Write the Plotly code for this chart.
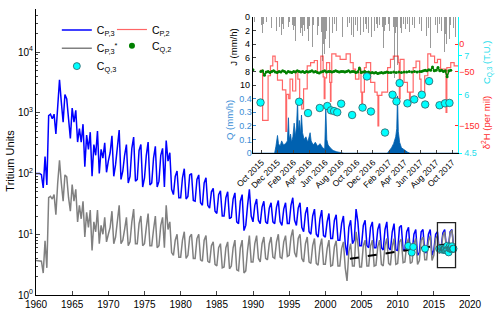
import math
import pandas as pd
import plotly.graph_objects as go

FONT = "Liberation Sans, Arial, Helvetica, sans-serif"

# ---------------- main panel data (quarterly samples: Jan, Apr, Jul, Oct) ----------------
START_YEAR = 1960
cp3 = [
    100, 100, 100, 96,      # 1960
    58, 190, 65, 900,       # 1961
    950, 800, 950, 450,     # 1962
    1500, 3500, 1500, 700,  # 1963
    2000, 1700, 800, 380,   # 1964
    1200, 700, 1100, 330,   # 1965
    550, 330, 650, 130,     # 1966
    430, 250, 480, 90,      # 1967
    300, 200, 500, 100,     # 1968
    250, 180, 320, 105,     # 1969
    160, 220, 420, 90,      # 1970
    140, 300, 520, 80,      # 1971
    110, 200, 300, 70,      # 1972
    90, 260, 400, 75,       # 1973
    80, 240, 300, 60,       # 1974
    85, 200, 330, 65,       # 1975
    70, 180, 280, 60,       # 1976
    75, 200, 260, 60,       # 1977
    350, 160, 220, 55,      # 1978
    45, 90, 110, 40,        # 1979
    40, 85, 120, 38,        # 1980
    42, 95, 100, 36,        # 1981
    35, 80, 95, 33,         # 1982
    30, 70, 85, 30,         # 1983
    27, 50, 57, 24,         # 1984
    22, 45, 52, 20,         # 1985
    20, 40, 50, 18,         # 1986
    19, 38, 48, 16,         # 1987
    15, 35, 45, 11.5,       # 1988
    14, 30, 55, 20,         # 1989
    16, 30, 38, 17,         # 1990
    15, 28, 35, 16,         # 1991
    15, 27, 33, 16,         # 1992
    15, 28, 36, 16,         # 1993
    14, 26, 33, 15,         # 1994
    15, 30, 40, 17,         # 1995
    14, 27, 33, 13,         # 1996
    11, 22, 28, 11,         # 1997
    10, 20, 26, 10,         # 1998
    9, 18, 25, 9.5,         # 1999
    9, 16, 22, 8.5,         # 2000
    8.5, 17, 21, 8,         # 2001
    8, 15, 20, 7,           # 2002
    4.5, 13, 17, 7,         # 2003
    8, 26, 16, 6.5,         # 2004
    6.5, 14, 17, 6.5,       # 2005
    6, 13, 16, 6,           # 2006
    6, 12, 15, 6,           # 2007
    5.5, 12, 16, 6,         # 2008
    5.5, 11, 15, 5.5,       # 2009
    5.4, 13, 14, 5.5,       # 2010
    5.5, 11, 13, 5,         # 2011
    5, 10, 12, 4.5,         # 2012
    5, 11, 12, 5,           # 2013
    5, 10, 12, 4.5,         # 2014
    5.5, 10, 11, 5.5,       # 2015
    6, 10.5, 12, 6,         # 2016
    6, 11, 12, 6,           # 2017
]
cp3_star = [
    3.7, 3.7, 3.7, 3.6,     # 1960
    2.3, 7.8, 2.8, 40,      # 1961
    42, 38, 45, 21,         # 1962
    70, 165, 70, 35,        # 1963
    95, 88, 40, 24,         # 1964
    66, 35, 55, 16,         # 1965
    30, 18, 35, 9,          # 1966
    23, 13, 25, 5.4,        # 1967
    16, 11, 25, 7,          # 1968
    14, 10, 19, 7.5,        # 1969
    10, 13, 24, 7,          # 1970
    9, 17, 30, 7,           # 1971
    8, 12, 19, 6.5,         # 1972
    7.5, 16, 26, 7,         # 1973
    7, 15, 20, 6.5,         # 1974
    7, 13, 22, 6.5,         # 1975
    6.5, 12, 20, 6,         # 1976
    6.5, 14, 19, 6,         # 1977
    30, 12, 16, 5,          # 1978
    4.5, 8, 10, 4.2,        # 1979
    4.2, 8, 11, 4,          # 1980
    4.5, 9, 10, 4,          # 1981
    4, 8.5, 10, 3.8,        # 1982
    3.6, 8, 9.5, 3.6,       # 1983
    3.4, 6.5, 7.5, 3.2,     # 1984
    3, 6, 7, 2.8,           # 1985
    2.9, 6, 7.5, 2.7,       # 1986
    3, 6, 8, 2.6,           # 1987
    2.5, 6, 8, 2.3,         # 1988
    2.5, 5.5, 9.5, 3.5,     # 1989
    3.5, 7, 9.5, 4,         # 1990
    3.5, 7, 9, 4,           # 1991
    3.8, 7, 9, 4.2,         # 1992
    4, 7.5, 10, 4.2,        # 1993
    4, 7.5, 9.5, 4.3,       # 1994
    4.5, 9, 12, 5,          # 1995
    4.2, 8.5, 10, 4,        # 1996
    3.5, 7, 9, 3.5,         # 1997
    3.3, 6.5, 8.5, 3.3,     # 1998
    3.1, 6.2, 8.5, 3.2,     # 1999
    3.2, 5.8, 8, 3,         # 2000
    3.1, 6.2, 7.8, 3,       # 2001
    3, 5.8, 7.5, 2.8,       # 2002
    1.7, 5.2, 7, 3,         # 2003
    3, 11, 7, 2.9,          # 2004
    2.9, 6.5, 8, 3,         # 2005
    3, 6.4, 8, 3,           # 2006
    3.1, 6.2, 8, 3.2,       # 2007
    3, 6.5, 8.5, 3.3,       # 2008
    3.1, 6.3, 8.5, 3.2,     # 2009
    3.3, 7.5, 8.3, 3.4,     # 2010
    3.5, 7, 8.5, 3.3,       # 2011
    3.5, 7, 8.5, 3.2,       # 2012
    3.7, 8, 9, 3.8,         # 2013
    3.8, 7.8, 9.5, 3.7,     # 2014
    4.5, 8.5, 9.5, 4.8,     # 2015
    5.2, 9.5, 11, 5.5,      # 2016
    5.8, 10.5, 11.7, 6,     # 2017
]
trend_years = [2003.4, 2017.6]
trend_vals = [3.95, 7.1]
cq3_early_years = [2011.47, 2011.94, 2012.16, 2013.78]
cq3_early_vals = [6.44, 5.0, 6.2, 5.8]
box_years = [2015.5, 2018.0]
box_vals = [2.82, 15.6]

main_xticks = list(range(1960, 2021, 5))
main_yticks = [1, 10, 100, 1000, 10000]
main_yticktext = ["10<sup>0</sup>", "10<sup>1</sup>", "10<sup>2</sup>", "10<sup>3</sup>", "10<sup>4</sup>"]

# ---------------- inset data ----------------
cq3_dates = ["2015-09-27", "2016-02-22", "2016-03-27", "2016-05-11", "2016-06-09", "2016-06-23",
             "2016-07-05", "2016-07-17", "2016-08-01", "2016-09-12", "2016-10-22", "2016-11-08",
             "2016-11-23", "2017-01-16", "2017-02-14", "2017-03-01", "2017-03-13", "2017-04-12",
             "2017-05-08", "2017-06-06", "2017-06-19", "2017-07-04", "2017-08-13", "2017-09-03",
             "2017-09-20"]
cq3_vals = [5.80, 5.82, 5.53, 5.66, 5.71, 5.60, 5.58, 5.55, 5.77, 5.48, 5.67, 6.47, 5.57, 5.03,
            6.00, 5.83, 6.30, 5.78, 5.88, 6.00, 5.75, 6.35, 5.73, 5.78, 5.79]

q_dates = ["2015-08-28", "2015-11-20", "2015-11-25", "2015-12-01", "2015-12-05", "2015-12-11",
           "2015-12-17", "2015-12-24", "2016-01-01", "2016-01-08", "2016-01-12", "2016-01-15",
           "2016-01-20", "2016-01-24", "2016-01-29", "2016-02-03", "2016-02-07", "2016-02-12",
           "2016-02-16", "2016-02-19", "2016-02-23", "2016-02-27", "2016-03-02", "2016-03-06",
           "2016-03-12", "2016-03-19", "2016-03-26", "2016-04-04", "2016-04-08", "2016-04-16",
           "2016-04-24", "2016-05-03", "2016-05-12", "2016-05-22", "2016-05-30", "2016-06-03",
           "2016-06-07", "2016-06-12", "2016-06-20", "2016-07-01", "2016-07-15", "2016-07-29",
           "2016-08-12", "2017-01-25", "2017-02-02", "2017-02-10", "2017-02-18", "2017-02-26",
           "2017-03-02", "2017-03-05", "2017-03-08", "2017-03-13", "2017-03-20", "2017-04-01",
           "2017-04-12", "2017-04-22", "2017-10-24"]
q_vals = [0, 0, 0.05, 0.13, 0.07, 0.05, 0.09, 0.06, 0.07, 0.09, 0.26, 0.10, 0.14, 0.08, 0.12,
          0.22, 0.12, 0.20, 0.38, 0.16, 0.24, 0.14, 0.28, 0.15, 0.10, 0.12, 0.08, 0.15, 0.09,
          0.06, 0.08, 0.05, 0.07, 0.04, 0.03, 0.33, 0.10, 0.06, 0.04, 0.02, 0.01, 0.005, 0,
          0, 0.02, 0.04, 0.07, 0.12, 0.18, 0.42, 0.16, 0.08, 0.04, 0.02, 0.008, 0, 0]

red_dates = ["2015-09-25", "2015-10-05", "2015-10-26", "2015-11-04", "2015-11-13", "2015-11-22",
             "2015-12-01", "2015-12-20", "2016-01-02", "2016-01-05", "2016-01-13", "2016-01-18",
             "2016-01-28", "2016-02-09", "2016-02-17", "2016-02-24", "2016-03-03", "2016-03-10",
             "2016-03-24", "2016-04-06", "2016-04-20", "2016-05-02", "2016-05-15", "2016-05-24",
             "2016-05-28", "2016-05-31", "2016-06-06", "2016-06-18", "2016-06-21", "2016-06-23",
             "2016-06-26", "2016-07-12", "2016-07-28", "2016-08-20", "2016-09-05", "2016-09-16",
             "2016-09-25", "2016-10-08", "2016-10-16", "2016-10-19", "2016-10-22", "2016-10-29",
             "2016-11-05", "2016-11-22", "2016-12-08", "2016-12-17", "2016-12-20", "2016-12-23",
             "2017-01-04", "2017-01-26", "2017-02-06", "2017-02-17", "2017-03-08", "2017-03-12",
             "2017-03-15", "2017-03-30", "2017-04-12", "2017-04-20", "2017-04-23", "2017-05-04",
             "2017-05-15", "2017-05-29", "2017-06-03", "2017-06-17", "2017-06-29", "2017-07-10",
             "2017-07-25", "2017-08-05", "2017-08-17", "2017-09-03", "2017-09-07", "2017-09-10",
             "2017-09-25", "2017-10-08", "2017-10-24"]
red_vals = [-48, -140, -58, -40, -22, -32, -66, -84, -160, -92, -100, -64, -86, -49, -64, -110,
            -119, -82, -40, -34, -30, -52, -22, -60, -100, -62, -34, -70, -105, -70, -18, -22,
            -28, -18, -34, -46, -64, -46, -88, -110, -88, -43, -34, -70, -88, -94, -150, -94,
            -88, -43, -28, -22, -34, -100, -28, -70, -88, -113, -88, -43, -31, -64, -91, -58,
            -18, -22, -34, -28, -46, -46, -125, -43, -34, -40, -40]

green_start1 = "2015-09-28"
green_vals1 = [-50, -49, -57, -51, -50,
               -52, -50, -49, -51, -52,
               -50, -51, -49, -50,
               -53, -50, -51, -52,
               -50, -51, -49, -50, -51,
               -50, -52, -50, -51,
               -50, -49, -51, -50,
               -52, -53, -51, -50, -49,
               -51, -50, -50, -51,
               -50, -49, -50, -51,
               -50, -50, -51, -50, -49,
               -51, -50, -50, -52,
               -51, -44, -52, -51, -50,
               -52, -51, -53, -52,
               -53, -52, -54, -53,
               -52, -53, -52, -51, -52]
green_sparse_dates = ["2015-08-29", "2017-02-08", "2017-02-18", "2017-02-28", "2017-03-10",
                      "2017-03-20", "2017-03-30", "2017-04-09", "2017-04-19", "2017-04-29",
                      "2017-05-09", "2017-05-19", "2017-05-29"]
green_sparse_vals = [-47, -52, -51, -52, -51, -52, -51, -51, -50, -51, -50, -51, -50]
green_start2 = "2017-06-05"
green_vals2 = [-50, -49, -48, -49, -47, -48, -42, -49, -48, -43, -49, -48, -50, -49, -60, -49, -48]

j_dates = ["2015-09-03", "2015-09-12", "2015-09-20", "2015-09-29", "2015-10-03", "2015-10-07",
           "2015-10-13", "2015-10-19", "2015-10-25", "2015-11-01", "2015-11-08", "2015-11-16",
           "2015-11-20", "2015-11-26", "2015-12-02", "2015-12-08", "2015-12-14", "2015-12-19",
           "2015-12-24", "2015-12-29", "2016-01-02", "2016-01-05", "2016-01-09", "2016-01-12",
           "2016-01-16", "2016-01-21", "2016-01-26", "2016-01-31", "2016-02-04", "2016-02-08",
           "2016-02-12", "2016-02-16", "2016-02-20", "2016-02-25", "2016-02-29", "2016-03-04",
           "2016-03-08", "2016-03-13", "2016-03-18", "2016-03-23", "2016-03-28", "2016-04-01",
           "2016-04-06", "2016-04-11", "2016-04-16", "2016-04-21", "2016-04-26", "2016-05-01",
           "2016-05-06", "2016-05-11", "2016-05-16", "2016-05-20", "2016-05-23", "2016-05-26",
           "2016-05-29", "2016-06-01", "2016-06-05", "2016-06-10", "2016-06-16", "2016-06-22",
           "2016-06-28", "2016-07-06", "2016-07-14", "2016-07-22", "2016-07-30", "2016-08-05",
           "2016-08-15", "2016-08-24", "2016-09-02", "2016-09-09", "2016-09-16", "2016-09-24",
           "2016-10-01", "2016-10-07", "2016-10-13", "2016-10-19", "2016-10-25", "2016-10-31",
           "2016-11-06", "2016-11-12", "2016-11-18", "2016-11-24", "2016-11-30", "2016-12-06",
           "2016-12-12", "2016-12-18", "2016-12-24", "2016-12-30", "2017-01-04", "2017-01-09",
           "2017-01-13", "2017-01-18", "2017-01-23", "2017-01-28", "2017-02-02", "2017-02-07",
           "2017-02-11", "2017-02-16", "2017-02-20", "2017-02-24", "2017-03-01", "2017-03-05",
           "2017-03-09", "2017-03-14", "2017-03-20", "2017-03-27", "2017-04-04", "2017-04-12",
           "2017-04-20", "2017-04-29", "2017-05-08", "2017-05-17", "2017-05-26", "2017-06-04",
           "2017-06-13", "2017-06-22", "2017-07-01", "2017-07-08", "2017-07-14", "2017-07-21",
           "2017-07-27", "2017-08-04", "2017-08-12", "2017-08-19", "2017-08-25", "2017-08-30",
           "2017-09-03", "2017-09-08", "2017-09-13", "2017-09-18", "2017-09-23", "2017-09-29",
           "2017-10-05", "2017-10-12", "2017-10-18"]
j_vals = [0.8, 1.6, 0.6, 1.2, 2.3, 1.0, 1.8, 0.7, 1.4, 0.9, 1.6, 4.8, 1.2, 2.0, 0.9, 1.5, 2.6,
          1.0, 1.8, 1.4, 1.7, 1.2, 2.0, 1.5, 0.8, 2.4, 1.1, 1.9, 1.3, 3.5, 2.2, 3.6, 1.0, 2.3,
          1.6, 2.8, 1.2, 2.0, 0.9, 1.7, 3.5, 1.3, 2.4, 4.4, 1.1, 2.0, 1.4, 2.6, 1.3, 3.0, 2.2,
          6.5, 4.0, 7.7, 5.5, 3.2, 2.0, 1.2, 4.6, 1.5, 2.4, 1.0, 2.0, 3.5, 1.0, 3.0, 0.8, 1.5,
          0.9, 2.6, 3.0, 1.2, 2.0, 1.0, 2.6, 1.5, 2.2, 1.0, 1.7, 2.4, 1.0, 3.0, 1.4, 2.0, 1.0,
          1.6, 1.1, 2.0, 1.4, 4.5, 2.0, 1.2, 2.6, 1.0, 2.0, 7.9, 3.0, 1.5, 9.0, 2.4, 1.5, 7.0,
          4.2, 1.6, 2.4, 1.0, 1.8, 1.0, 2.2, 1.2, 1.6, 2.5, 1.0, 2.0, 1.2, 2.8, 1.6, 4.5, 2.0,
          4.0, 1.2, 2.4, 1.0, 2.0, 3.6, 5.2, 2.5, 4.0, 1.5, 3.2, 1.2, 2.2, 1.6, 3.0, 1.0]

inset_xrange = ["2015-08-28", "2017-10-24"]
inset_xticks = ["2015-10-01", "2015-12-01", "2016-02-01", "2016-04-01", "2016-06-01",
                "2016-08-01", "2016-10-01", "2016-12-01", "2017-02-01", "2017-04-01",
                "2017-06-01", "2017-08-01", "2017-10-01"]
j_ticks = [0, 2, 4, 6, 8, 10]
q_ticks = [0, 0.1, 0.2, 0.3, 0.4]
d2h_ticks = [-150, -50, 0]
cq3_ticks = [4.5, 6, 7]

# ---------------- derived ----------------
t_main = [START_YEAR + i * 0.25 for i in range(len(cp3))]


def dec_year(d):
    ts = pd.Timestamp(d)
    s = pd.Timestamp(year=ts.year, month=1, day=1)
    e = pd.Timestamp(year=ts.year + 1, month=1, day=1)
    return ts.year + (ts - s) / (e - s)


cq3_main_x = cq3_early_years + [dec_year(d) for d in cq3_dates]
cq3_main_y = cq3_early_vals + cq3_vals
green_dates1 = pd.date_range(green_start1, periods=len(green_vals1), freq="7D")
green_dates2 = pd.date_range(green_start2, periods=len(green_vals2), freq="7D")
green_x = list(green_dates1) + [None] + list(green_dates2)
green_y = green_vals1 + [None] + green_vals2

BLUE = "#0000FF"
GRAY = "#808080"
CYAN = "#00FFFF"
CYAN_EDGE = "#2E5E64"
RED = "rgba(255,0,0,0.6)"
GREEN = "#008000"
QBLUE = "#0061B0"
QLABEL = "#3A8ED6"
CYAN_TXT = "#1CDDEB"
RED_TXT = "#FF2A2A"

fig = go.Figure()

# main panel
fig.add_trace(go.Scatter(x=t_main, y=cp3, mode="lines", line=dict(color=BLUE, width=1.5),
                         name="C<sub>P,3</sub>", legend="legend"))
fig.add_trace(go.Scatter(x=t_main, y=cp3_star, mode="lines", line=dict(color=GRAY, width=1.5),
                         name="C<sub>P,3</sub><sup>*</sup>", legend="legend3"))
fig.add_trace(go.Scatter(x=trend_years, y=trend_vals, mode="lines",
                         line=dict(color="black", width=2, dash="dash"), showlegend=False))
fig.add_trace(go.Scatter(x=cq3_main_x, y=cq3_main_y, mode="markers",
                         marker=dict(color=CYAN, size=7, line=dict(color=CYAN_EDGE, width=0.8)),
                         name="C<sub>Q,3</sub>", legend="legend5"))

# inset
fig.add_trace(go.Bar(x=j_dates, y=j_vals, xaxis="x2", yaxis="y2", width=2.6 * 86400000,
                     marker=dict(color="rgba(30,30,30,0.45)", line=dict(width=0)),
                     showlegend=False))
fig.add_trace(go.Scatter(x=q_dates, y=q_vals, xaxis="x2", yaxis="y3", mode="lines",
                         line=dict(color=QBLUE, width=0.8), fill="tozeroy", fillcolor=QBLUE,
                         showlegend=False))
fig.add_trace(go.Scatter(x=red_dates, y=red_vals, xaxis="x2", yaxis="y4", mode="lines",
                         line=dict(color=RED, width=1.2, shape="hv"),
                         name="C<sub>P,2</sub>", legend="legend2"))
fig.add_trace(go.Scatter(x=green_x, y=green_y, xaxis="x2", yaxis="y4", mode="lines+markers",
                         line=dict(color=GREEN, width=1.5), marker=dict(color=GREEN, size=3),
                         showlegend=False))
fig.add_trace(go.Scatter(x=green_sparse_dates, y=green_sparse_vals, xaxis="x2", yaxis="y4",
                         mode="markers", marker=dict(color=GREEN, size=3), showlegend=False))
# legend entry for the stream delta-2H dots (larger symbol, as in the reference legend)
fig.add_trace(go.Scatter(x=[None], y=[None], xaxis="x2", yaxis="y4", mode="markers",
                         marker=dict(color=GREEN, size=6), name="C<sub>Q,2</sub>",
                         legend="legend4"))
fig.add_trace(go.Scatter(x=cq3_dates, y=cq3_vals, xaxis="x2", yaxis="y5", mode="markers",
                         marker=dict(color=CYAN, size=7.5, line=dict(color=CYAN_EDGE, width=0.8)),
                         showlegend=False))

fig.add_shape(type="rect", xref="x", yref="y", x0=box_years[0], x1=box_years[1],
              y0=box_vals[0], y1=box_vals[1], line=dict(color="#222222", width=1.3))

axis_common = dict(showgrid=False, zeroline=False)
IN_DOM_X = [0.4993, 0.9731]
IN_DOM_Y = [0.4959, 0.9725]


def leg(x, y):
    return dict(x=x, y=y, xanchor="left", yanchor="top", bgcolor="rgba(0,0,0,0)",
                font=dict(size=10.5), tracegroupgap=0, itemwidth=30)


fig.update_layout(
    width=500, height=315,
    margin=dict(l=36, r=30, t=4, b=20),
    paper_bgcolor="white", plot_bgcolor="white",
    font=dict(family=FONT, size=10, color="black"),
    xaxis=dict(domain=[0, 1], range=[1960, 2020], tickvals=main_xticks, ticks="inside",
               ticklen=4, showline=True, linecolor="black", linewidth=1, anchor="y",
               tickfont=dict(size=10), **axis_common),
    yaxis=dict(type="log", range=[0, 4.71], tickvals=main_yticks, ticktext=main_yticktext,
               ticks="inside", ticklen=4, showline=True, linecolor="black", linewidth=1,
               minor=dict(ticks="inside", ticklen=2, dtick="D1", showgrid=False),
               tickfont=dict(size=10), anchor="x", **axis_common),
    xaxis2=dict(domain=IN_DOM_X, anchor="y2", type="date", range=inset_xrange,
                tickvals=inset_xticks, tickformat="%b %Y", tickangle=-45, ticks="inside",
                ticklen=3, showline=True, linecolor="black", linewidth=1,
                tickfont=dict(size=8.5), **axis_common),
    yaxis2=dict(domain=IN_DOM_Y, anchor="x2", range=[20, 0], tickvals=j_ticks, ticks="inside",
                ticklen=3, showline=True, linecolor="black", linewidth=1,
                tickfont=dict(size=9), **axis_common),
    yaxis3=dict(overlaying="y2", anchor="x2", side="left", range=[0, 1.0], tickvals=q_ticks,
                ticks="inside", ticklen=3, tickcolor=QLABEL, showline=False,
                tickfont=dict(size=9, color=QLABEL), **axis_common),
    yaxis4=dict(overlaying="y2", anchor="x2", side="right", range=[-200, 50],
                tickvals=d2h_ticks, ticks="inside", ticklen=3, tickcolor=RED_TXT,
                showline=False, tickfont=dict(size=9, color=RED_TXT), **axis_common),
    yaxis5=dict(overlaying="y2", anchor="x2", side="right", range=[4.5, 8.0],
                tickvals=cq3_ticks, ticks="outside", ticklen=3, tickcolor=CYAN,
                showline=True, linecolor=CYAN, linewidth=1,
                tickfont=dict(size=9, color=CYAN_TXT), **axis_common),
    legend=leg(0.048, 0.977),
    legend3=leg(0.048, 0.9137),
    legend5=leg(0.048, 0.851),
    legend2=leg(0.175, 0.979),
    legend4=leg(0.175, 0.922),
    bargap=0,
    showlegend=True,
)

ann = [
    dict(text="Tritium Units", x=-0.062, y=0.47, textangle=-90, font=dict(size=11)),
    dict(text="J (mm/h)", x=0.455, y=0.866, textangle=-90, font=dict(size=9.5)),
    dict(text="Q (mm/h)", x=0.447, y=0.612, textangle=-90, font=dict(size=9.5, color=QLABEL)),
    dict(text="C<sub>Q,3</sub> (T.U.)", x=1.039, y=0.814, textangle=-90,
         font=dict(size=9.5, color=CYAN_TXT)),
    dict(text="δ<sup>2</sup>H (per mil)", x=1.037, y=0.601, textangle=-90,
         font=dict(size=9.5, color=RED_TXT)),
]
for a in ann:
    fig.add_annotation(xref="paper", yref="paper", showarrow=False, xanchor="center",
                       yanchor="middle", **a)

fig.write_html("out.html", config={"displayModeBar": False},
               post_script="document.body.style.margin='0';")
